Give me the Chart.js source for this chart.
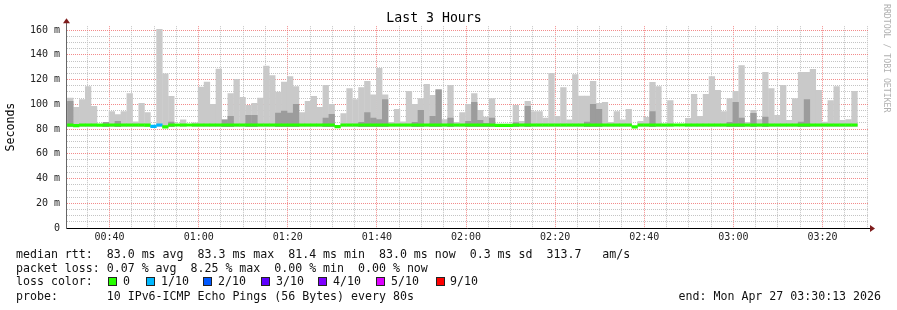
<!DOCTYPE html>
<html>
<head>
<meta charset="utf-8">
<script src="https://cdn.jsdelivr.net/npm/chart.js@4.4.1/dist/chart.umd.min.js"></script>
<style>
  body { margin: 0; background: #fff; }
  #wrap { position: relative; width: 897px; height: 310px; font-family: "DejaVu Sans Mono", monospace; color: #111; }
  #wrap canvas { position: absolute; left: 0; top: 0; }
  .ln { position: absolute; left: 16px; font-size: 11.6px; line-height: 14px; white-space: pre; }
  .sq { position: absolute; top: 277px; width: 7px; height: 7px; border: 1px solid #222; }
  .lb { position: absolute; top: 274px; font-size: 11.6px; line-height: 14px; white-space: pre; }
  #credit { position: absolute; left: 882px; top: 4px; font-size: 8.2px; color: #b0b0b0; writing-mode: vertical-rl; white-space: pre; }
</style>
</head>
<body>
<div id="wrap">
  <canvas id="myChart" width="897" height="310"></canvas>
  <div class="ln" style="top:247px">median rtt:  83.0 ms avg  83.3 ms max  81.4 ms min  83.0 ms now  0.3 ms sd  313.7   am/s</div>
  <div class="ln" style="top:261px">packet loss: 0.07 % avg  8.25 % max  0.00 % min  0.00 % now</div>
  <div class="ln" style="top:274px">loss color:</div>
  <div class="ln" style="top:289px">probe:       10 IPv6-ICMP Echo Pings (56 Bytes) every 80s</div>
  <div class="ln" style="top:289px; left:auto; right:16px">end: Mon Apr 27 03:30:13 2026</div>
  <div id="legend"></div>
  <div id="credit">RRDTOOL / TOBI OETIKER</div>
</div>
<script>
// 80 s steps over the last 3 hours (00:30:13 -> 03:30:13), x in minutes
const stepMin = 80 / 60;
const stepPhase = 0.3;           // steps are aligned to 80 s boundaries, not to the start
const spanMin = 180;
const firstTick = 9 + 47 / 60;   // 00:40:00

// top of the light smoke (max ping), ms
const smokeMax = [
  105.3, 97.8, 104.2, 114.7, 98.6, null, 85.7, 94.5, 91.9, 94.5,
  109, 86.2, 101, 93.7, null, 161, 125, 106.7, null, 87.8,
  null, 85.4, 114.2, 118.3, 100.2, 128.8, 87.8, 109, 120.4, 105.9,
  99.4, 101, 105.3, 131.2, 123.6, 110.2, 118.3, 122.8, 114.7, 93.7,
  102.6, 106.7, 97.8, 115.6, 100.2, null, 92.7, 113.1, 104.2, 113.9,
  118.8, 108, 129.3, 108, 85.7, 96.2, 86.2, 110.7, 100.2, 105,
  116.4, 107.5, 112.3, 88, 115.6, 85.7, 93.7, 100.2, 109, 95.4,
  90, 105, null, null, null, 99.4, 86.5, 102.6, 94.5, 94.5,
  89.2, 125.3, 90.5, 113.9, 87.8, 124.4, 106.9, 106.9, 118.8, 101,
  101.8, 85.7, 94.5, 87.8, 96.2, null, 86.5, 89.7, 118, 114.7,
  84.3, 103.4, null, null, 88.9, 108.3, 90.5, 108.3, 122.8, 111.5,
  94.5, 105, 110.7, 131.7, 85.7, 95.4, 88, 126.1, 113.1, 91.3,
  115.6, 87.3, 105, 126.1, 126.1, 128.5, 111.5, 85.9, 103.4, 114.7,
  87.3, 88, 110.7, null, null
];

// top of the denser (darker) smoke, ms
const smokeDense = [
  102.6, null, null, null, null, null, 85.7, null, 86.5, null,
  null, null, null, null, null, null, null, 86, null, null,
  null, null, null, null, null, null, 87.8, 90.5, null, null,
  91.3, 91.3, null, null, null, 93.2, 94.8, 93.2, 100.2, null,
  null, null, null, 89.2, 92.1, null, null, null, null, 85.7,
  93.7, 89.2, 88, 104.2, null, null, null, null, 85.7, 95.4,
  null, 90.5, 112, null, 89.2, null, null, 86.5, 101.8, 87.3,
  85, 89.2, null, null, null, 85.5, null, 98.6, null, null,
  null, null, null, null, null, null, null, 86, 100.2, 96.2,
  null, null, null, null, null, null, null, null, 94.5, null,
  null, null, null, null, null, null, null, null, null, null,
  null, 85.7, 101.8, 89.2, null, 92.9, null, 90, null, null,
  null, null, null, 86, 104.2, null, null, null, null, null,
  null, null, null, null, null
];

// median rtt, ms
const median = [
  83.3, 82.8, 83.3, 83.3, 83.3, 83.2, 83.3, 83.3, 83.3, 83.3,
  83.3, 83.3, 83.3, 83.2, 82.2, 83.3, 81.7, 83.3, 83.3, 83.3,
  83.3, 83.3, 83.3, 83.3, 83.3, 83.3, 83.3, 83.3, 83.3, 83.3,
  83.3, 83.3, 83.3, 83.3, 83.3, 83.3, 83.3, 83.3, 83.3, 83.3,
  83.3, 83.3, 83.3, 83.3, 83.3, 82.0, 83.3, 83.3, 83.3, 83.3,
  83.3, 83.3, 83.3, 83.3, 83.3, 83.3, 83.3, 83.3, 83.3, 83.3,
  83.3, 83.3, 83.3, 83.3, 83.3, 83.3, 83.3, 83.3, 83.3, 83.3,
  83.3, 83.3, 83.0, 83.0, 83.0, 83.3, 83.3, 83.3, 83.3, 83.3,
  83.3, 83.3, 83.3, 83.3, 83.3, 83.3, 83.3, 83.3, 83.3, 83.3,
  83.3, 83.3, 83.3, 83.3, 83.3, 81.8, 83.3, 83.3, 83.3, 83.3,
  83.3, 83.3, 83.3, 83.3, 83.3, 83.3, 83.3, 83.3, 83.3, 83.3,
  83.3, 83.3, 83.3, 83.3, 83.3, 83.3, 83.3, 83.3, 83.3, 83.3,
  83.3, 83.3, 83.3, 83.3, 83.3, 83.3, 83.3, 83.3, 83.3, 83.3,
  83.3, 83.3, 83.3, null, null
];

// lost pings out of 10 per step (only two steps lost one)
const lossIdx = [14, 15];
const lossOf = lossIdx.map(() => 1);

const smokeFloor = 81.6;
const lineHalf = 1.3;

const lossLevels = ['0', '1/10', '2/10', '3/10', '4/10', '5/10', '9/10'];
const lossColors = ['#26ff00', '#00b8ff', '#0059ff', '#5e00ff', '#7e00ff', '#dd00ff', '#ff0000'];
const legendSquareX = [108, 146, 203, 261, 318, 376, 436];
const legendLabelX = [123, 161, 218, 276, 333, 391, 450];

const xCenter = i => (i + 0.5) * stepMin + stepPhase;

const lightData = smokeMax.map((v, i) => ({ x: xCenter(i), y: v == null ? null : [smokeFloor, v] }));
const denseData = smokeDense.map((v, i) => ({ x: xCenter(i), y: v == null ? null : [smokeFloor, v] }));
const medianData = median.map((v, i) => ({ x: xCenter(i), y: v == null ? null : [v - lineHalf, v + lineHalf] }));
const medianColors = median.map((v, i) => {
  const k = lossIdx.indexOf(i);
  return k < 0 ? lossColors[0] : lossColors[lossOf[k]];
});

const xTicks = [];
for (let t = firstTick - 5; t <= spanMin; t += 5) xTicks.push(t);
const yTicks = [];
for (let v = 0; v <= 160; v += 5) yTicks.push(v);

function timeLabel(v) {
  const m = Math.round(30 + 13 / 60 + v);
  const h = Math.floor(m / 60), mm = m % 60;
  return String(h).padStart(2, '0') + ':' + String(mm).padStart(2, '0');
}
const isMajorX = v => Math.abs(((v - firstTick) % 20 + 20) % 20) < 0.01;

const arrows = {
  id: 'arrows',
  afterDraw(chart) {
    const { ctx, chartArea: a } = chart;
    ctx.save();
    ctx.strokeStyle = '#666';
    ctx.lineWidth = 1;
    ctx.beginPath();
    ctx.moveTo(a.left + 0.5, a.top);
    ctx.lineTo(a.left + 0.5, a.top - 4);
    ctx.stroke();
    ctx.strokeStyle = '#000';
    ctx.beginPath();
    ctx.moveTo(a.right, a.bottom + 0.5);
    ctx.lineTo(a.right + 2, a.bottom + 0.5);
    ctx.stroke();
    ctx.fillStyle = '#7f1d1d';
    ctx.beginPath();
    ctx.moveTo(a.left - 3, a.top - 3);
    ctx.lineTo(a.left + 4, a.top - 3);
    ctx.lineTo(a.left + 0.5, a.top - 8);
    ctx.closePath();
    ctx.fill();
    ctx.beginPath();
    ctx.moveTo(a.right + 2, a.bottom - 3);
    ctx.lineTo(a.right + 2, a.bottom + 4);
    ctx.lineTo(a.right + 7, a.bottom + 0.5);
    ctx.closePath();
    ctx.fill();
    ctx.restore();
  }
};

const ctx = document.getElementById('myChart');

const chrt = new Chart(ctx, {
  type: 'bar',
  data: {
    datasets: [
      {
        label: 'median',
        data: medianData,
        backgroundColor: medianColors,
        order: 0
      },
      {
        label: 'dense smoke',
        data: denseData,
        backgroundColor: '#9c9c9c',
        order: 1
      },
      {
        label: 'smoke',
        data: lightData,
        backgroundColor: '#c9c9c9',
        order: 2
      }
    ]
  },
  options: {
    responsive: false,
    animation: false,
    devicePixelRatio: 1,
    datasets: {
      bar: { grouped: false, barPercentage: 1.06, categoryPercentage: 1, borderWidth: 0 }
    },
    layout: { padding: { left: 0, right: 29, top: 0, bottom: 68 } },
    plugins: {
      legend: { display: false },
      tooltip: { enabled: false },
      title: {
        display: true,
        text: 'Last 3 Hours',
        color: '#000',
        font: { family: 'DejaVu Sans Mono', size: 13.2, weight: 'normal', lineHeight: 1.15 },
        padding: { top: 11, bottom: 0 }
      }
    },
    scales: {
      x: {
        type: 'linear',
        min: 0,
        max: spanMin,
        offset: false,
        afterBuildTicks: s => { s.ticks = xTicks.map(v => ({ value: v })); },
        afterFit: s => { s.height = 14; },
        grid: {
          offset: false,
          drawTicks: false,
          lineWidth: 1,
          color: c => isMajorX(c.tick.value) ? 'rgba(240,110,110,0.8)' : '#c4c4c4'
        },
        border: { display: true, color: '#000', width: 1, dash: [1, 1] },
        ticks: {
          autoSkip: false,
          maxRotation: 0,
          minRotation: 0,
          padding: 3,
          color: '#222',
          font: { family: 'DejaVu Sans Mono', size: 10 },
          callback: v => isMajorX(v) ? timeLabel(v) : ''
        }
      },
      y: {
        min: 0,
        max: 163.2,
        afterBuildTicks: s => { s.ticks = yTicks.map(v => ({ value: v })); },
        afterFit: s => { s.width = 66; },
        grid: {
          drawTicks: false,
          lineWidth: 1,
          color: c => c.tick.value % 20 === 0 ? 'rgba(240,110,110,0.8)' : '#c4c4c4'
        },
        border: { display: true, color: '#666', width: 1, dash: [1, 1] },
        title: {
          display: true,
          text: 'Seconds',
          color: '#000',
          font: { family: 'DejaVu Sans Mono', size: 11.6 },
          padding: 4
        },
        ticks: {
          autoSkip: false,
          padding: 6,
          color: '#222',
          font: { family: 'DejaVu Sans Mono', size: 10 },
          callback: v => v % 20 !== 0 ? '' : (v === 0 ? '0' : v + ' m')
        }
      }
    }
  },
  plugins: [arrows]
});

// loss colour legend line
const legend = document.getElementById('legend');
lossLevels.forEach((t, i) => {
  const sq = document.createElement('div');
  sq.className = 'sq';
  sq.style.left = legendSquareX[i] + 'px';
  sq.style.background = lossColors[i];
  legend.appendChild(sq);
  const lb = document.createElement('div');
  lb.className = 'lb';
  lb.style.left = legendLabelX[i] + 'px';
  lb.textContent = t;
  legend.appendChild(lb);
});

console.log(chrt)
</script>
</body>
</html>
